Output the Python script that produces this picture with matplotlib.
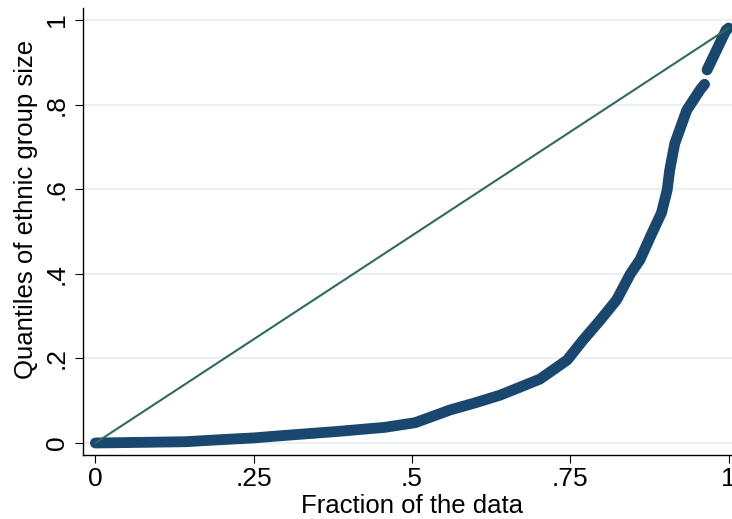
import matplotlib
matplotlib.use('Agg')
import matplotlib.pyplot as plt

# 分位数曲线
frac_low = [0.0, 0.05, 0.142, 0.20, 0.25, 0.30, 0.38, 0.457, 0.505, 0.56, 0.60, 0.639,
            0.702, 0.745, 0.77, 0.797, 0.823, 0.845, 0.86, 0.879, 0.894, 0.903,
            0.907, 0.915, 0.934, 0.955, 0.962]
qnt_low = [0.0, 0.001, 0.003, 0.008, 0.012, 0.018, 0.027, 0.037, 0.048, 0.078, 0.095, 0.113,
           0.151, 0.196, 0.243, 0.29, 0.338, 0.40, 0.433, 0.496, 0.544, 0.598,
           0.645, 0.708, 0.787, 0.835, 0.848]
frac_high = [0.966, 0.981, 0.996, 1.0]
qnt_high = [0.882, 0.929, 0.976, 0.981]

xticks = [0, 0.25, 0.5, 0.75, 1]
xticklabels = ['0', '.25', '.5', '.75', '1']
yticks = [0, 0.2, 0.4, 0.6, 0.8, 1]
yticklabels = ['0', '.2', '.4', '.6', '.8', '1']

plt.rcParams['font.family'] = ['Liberation Sans', 'DejaVu Sans']

fig = plt.figure(figsize=(7.32, 5.19), dpi=100)
ax = fig.add_axes([83.3 / 732, 64 / 519, (732 - 83.3) / 732, 447 / 519])

navy = '#1a476f'
green = '#2d6b5e'

# 数据点（粗线模拟密集的散点）
for fx, qy in [(frac_low, qnt_low), (frac_high, qnt_high)]:
    ax.plot(fx, qy, color=navy, lw=7.8, solid_capstyle='round',
            solid_joinstyle='round', zorder=3)

# 参考线
ax.plot([frac_low[0], frac_high[-1]], [qnt_low[0], qnt_high[-1]],
        color=green, lw=1.5, zorder=4)

ax.set_xlim(-0.0191, 1.0054)
ax.set_ylim(-0.0284, 1.0284)

ax.set_xticks(xticks)
ax.set_xticklabels(xticklabels)
ax.set_yticks(yticks)
ax.set_yticklabels(yticklabels, rotation=90, va='center')

ax.grid(axis='y', color='#e6eef1', lw=1.2, zorder=0)
ax.set_axisbelow(True)

for s in ['top', 'right']:
    ax.spines[s].set_visible(False)
for s in ['left', 'bottom']:
    ax.spines[s].set_linewidth(1.0)

ax.tick_params(direction='out', length=5.5, width=0.8, labelsize=19, pad=3)
ax.tick_params(axis='y', pad=5)

ax.set_xlabel('Fraction of the data', fontsize=18.5)
ax.set_ylabel('Quantiles of ethnic group size', fontsize=18.5)
ax.xaxis.set_label_coords(0.507, -0.087)
ax.yaxis.set_label_coords(-0.0698, 0.55)

fig.savefig('out.png', dpi=100)
